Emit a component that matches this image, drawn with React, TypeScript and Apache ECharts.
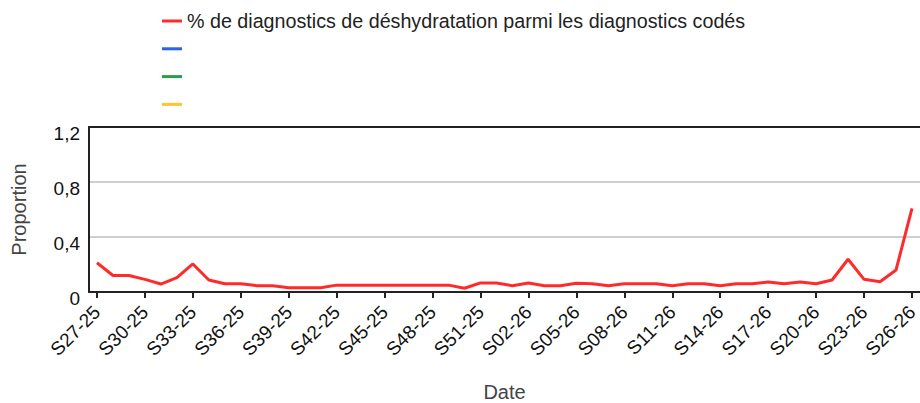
import React, { useEffect, useRef } from "react";
import * as echarts from "echarts";

const weeks: string[] = [
  "S27-25", "S28-25", "S29-25", "S30-25", "S31-25", "S32-25", "S33-25", "S34-25", "S35-25", "S36-25",
  "S37-25", "S38-25", "S39-25", "S40-25", "S41-25", "S42-25", "S43-25", "S44-25", "S45-25", "S46-25",
  "S47-25", "S48-25", "S49-25", "S50-25", "S51-25", "S52-25", "S01-26", "S02-26", "S03-26", "S04-26",
  "S05-26", "S06-26", "S07-26", "S08-26", "S09-26", "S10-26", "S11-26", "S12-26", "S13-26", "S14-26",
  "S15-26", "S16-26", "S17-26", "S18-26", "S19-26", "S20-26", "S21-26", "S22-26", "S23-26", "S24-26",
  "S25-26", "S26-26",
];

const deshydratation: number[] = [
  0.213, 0.12, 0.12, 0.092, 0.058, 0.104, 0.204, 0.087, 0.06, 0.06,
  0.046, 0.046, 0.031, 0.031, 0.031, 0.05, 0.05, 0.05, 0.05, 0.05,
  0.05, 0.05, 0.05, 0.027, 0.066, 0.066, 0.046, 0.066, 0.046, 0.046,
  0.063, 0.06, 0.045, 0.06, 0.06, 0.06, 0.045, 0.06, 0.06, 0.045,
  0.06, 0.06, 0.073, 0.06, 0.073, 0.06, 0.087, 0.238, 0.092, 0.075,
  0.16, 0.609,
];

const mainName = "% de diagnostics de déshydratation parmi les diagnostics codés";
const seriesNames: string[] = [mainName, "Série 2", "Série 3", "Série 4"];
const seriesColors: string[] = ["#ff2b2b", "#2962f0", "#2e9b48", "#ffc62c"];

const yTicks = { min: 0, max: 1.2, interval: 0.4 };

const FONT = "'Liberation Sans', Arial, Helvetica, sans-serif";

export default function App() {
  const ref = useRef<HTMLDivElement>(null);

  useEffect(() => {
    if (!ref.current) return;
    const chart = echarts.init(ref.current, null, { renderer: "svg" });
    const series: any[] = seriesNames.map((name, i) => ({
      name,
      type: "line",
      data: i === 0 ? deshydratation : [],
      xAxisIndex: 0,
      yAxisIndex: 0,
      showSymbol: false,
      symbol: "none",
      lineStyle: { color: seriesColors[i], width: 3 },
      itemStyle: { color: seriesColors[i] },
    }));
    chart.setOption({
      animation: false,
      backgroundColor: "#ffffff",
      textStyle: { fontFamily: FONT },
      legend: {
        orient: "vertical",
        left: 157,
        top: 6,
        icon: "rect",
        itemWidth: 20,
        itemHeight: 3,
        itemGap: 7.8,
        itemTextGap: 8,
        data: seriesNames,
        formatter: (name: string) => (name === mainName ? name : " "),
        textStyle: { fontSize: 19.7, color: "#222222", fontFamily: FONT, lineHeight: 20 },
      },
      grid: {
        left: 89,
        right: 0,
        top: 127,
        bottom: 111,
        containLabel: false,
        outerBoundsMode: "none",
      },
      xAxis: [
        {
          type: "category",
          data: weeks,
          boundaryGap: true,
          position: "bottom",
          name: "Date",
          nameLocation: "middle",
          nameGap: 93,
          nameTextStyle: { fontSize: 20, color: "#444444", fontFamily: FONT, lineHeight: 14 },
          axisLine: { show: true, lineStyle: { color: "#222222", width: 2 } },
          axisTick: { show: true, interval: 2, alignWithLabel: true, length: 6, lineStyle: { color: "#222222", width: 2 } },
          axisLabel: { interval: 2, rotate: 45, fontSize: 19, color: "#111111", margin: 17, fontFamily: FONT },
          splitLine: { show: false },
        },
        {
          type: "category",
          data: weeks,
          boundaryGap: true,
          position: "top",
          axisLine: { show: true, lineStyle: { color: "#222222", width: 2 } },
          axisTick: { show: false },
          axisLabel: { show: false },
          splitLine: { show: false },
        },
      ],
      yAxis: {
        type: "value",
        min: yTicks.min,
        max: yTicks.max,
        interval: yTicks.interval,
        name: "Proportion",
        nameLocation: "middle",
        nameGap: 60,
        nameTextStyle: { fontSize: 20, color: "#444444", fontFamily: FONT },
        axisLine: { show: true, lineStyle: { color: "#222222", width: 2 } },
        axisTick: { show: false },
        axisLabel: {
          fontSize: 19,
          color: "#111111",
          margin: 9,
          fontFamily: FONT,
          verticalAlign: "top",
          lineHeight: 12,
          formatter: (v: number) => String(Math.round(v * 10) / 10).replace(".", ","),
        },
        splitLine: { show: true, lineStyle: { color: "#cfcfcf", width: 2 } },
      },
      series,
    });
    return () => chart.dispose();
  }, []);

  return (
    <div
      ref={ref}
      style={{ position: "fixed", left: 0, top: 0, width: 920, height: 403, background: "#fff" }}
    />
  );
}
